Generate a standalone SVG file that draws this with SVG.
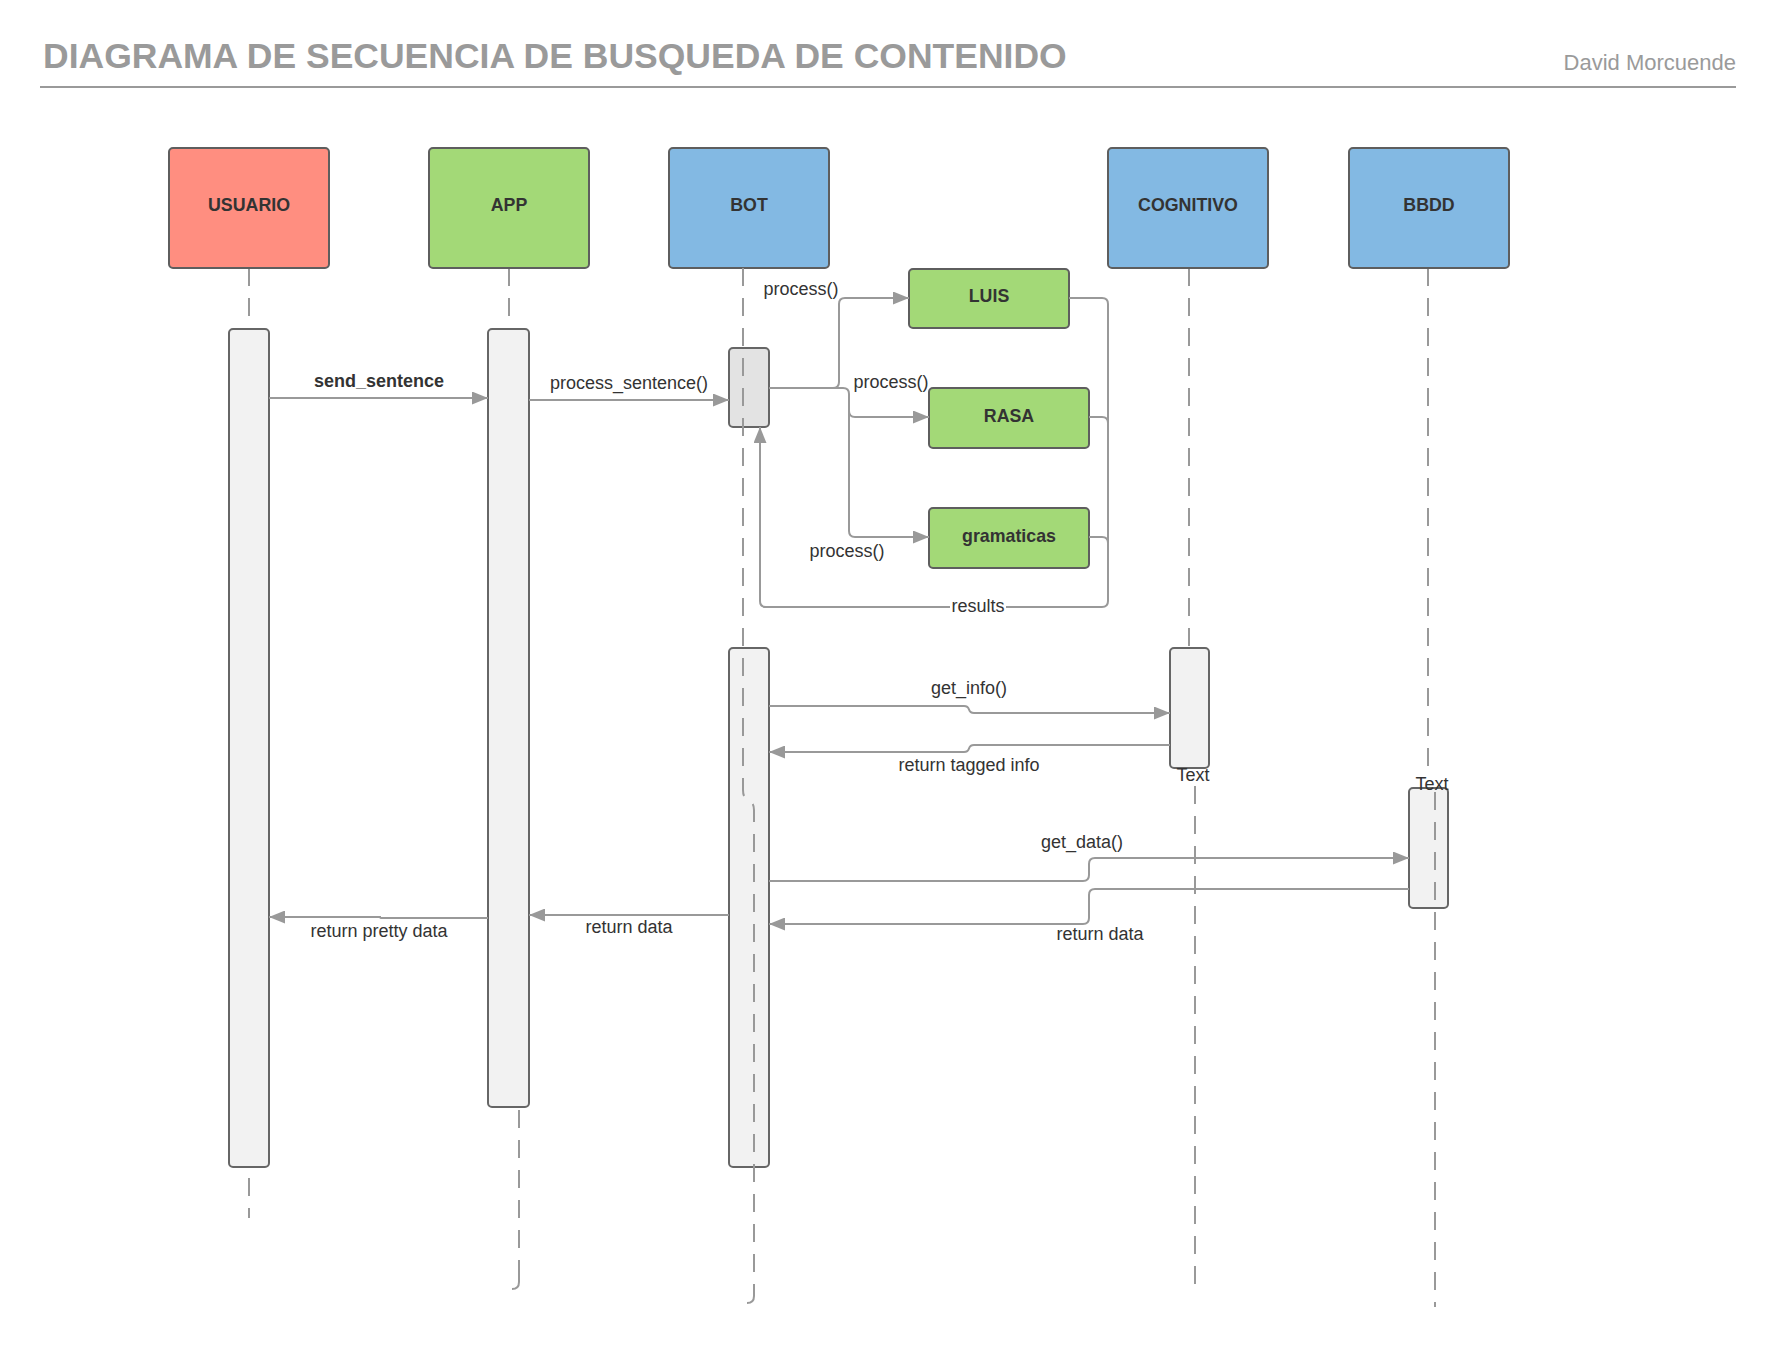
<svg xmlns="http://www.w3.org/2000/svg" width="1777" height="1347" viewBox="0 0 1777 1347">
<style>
text{font-family:"Liberation Sans",Arial,sans-serif;fill:#333}
.title{font-size:35.5px;font-weight:bold;fill:#9a9a9a}
.author{font-size:22px;fill:#9a9a9a}
.nl{font-size:17.8px;font-weight:bold;text-anchor:middle}
.lbl{font-size:18px;text-anchor:middle}
.box{stroke:#5e5e5e;stroke-width:2}
.act{fill:#f2f2f2;stroke:#666;stroke-width:2}
.life{fill:none;stroke:#999;stroke-width:2;stroke-dasharray:18 12}
.hook{fill:none;stroke:#999;stroke-width:2}
.con{fill:none;stroke:#999;stroke-width:2}
.arr{marker-end:url(#ah)}
</style>
<defs>
<marker id="ah" markerUnits="userSpaceOnUse" markerWidth="17" markerHeight="13" refX="16" refY="6.5" orient="auto">
<path d="M0,0 L16,6.5 L0,13 z" fill="#999"/>
</marker>
</defs>
<rect width="1777" height="1347" fill="#fff"/>
<g id="header">
<text class="title" x="43" y="68">DIAGRAMA DE SECUENCIA DE BUSQUEDA DE CONTENIDO</text>
<text class="author" x="1736" y="70" text-anchor="end">David Morcuende</text>
<line x1="40" y1="87" x2="1736" y2="87" stroke="#9a9a9a" stroke-width="2"/>
</g>
<g id="lifelines">
<path class="life" d="M249 268 V329"/>
<path class="life" d="M249 1178 V1218"/>
<path class="life" d="M509 268 V329"/>
<path class="life" d="M519 1110 V1280"/>
<path class="hook" d="M519 1278 V1282 Q519 1289 512 1289"/>
<path class="life" d="M1189 268 V648"/>
<path class="life" d="M1195 786 V1289"/>
<path class="life" d="M1428 268 V776"/>
</g>
<g id="node-usuario"><rect class="box" x="169" y="148" width="160" height="120" rx="4" fill="#ff8e80"/><text class="nl" x="249" y="211">USUARIO</text></g>
<g id="node-app"><rect class="box" x="429" y="148" width="160" height="120" rx="4" fill="#a3d977"/><text class="nl" x="509" y="211">APP</text></g>
<g id="node-bot"><rect class="box" x="669" y="148" width="160" height="120" rx="4" fill="#83b9e3"/><text class="nl" x="749" y="211">BOT</text></g>
<g id="node-cognitivo"><rect class="box" x="1108" y="148" width="160" height="120" rx="4" fill="#83b9e3"/><text class="nl" x="1188" y="211">COGNITIVO</text></g>
<g id="node-bbdd"><rect class="box" x="1349" y="148" width="160" height="120" rx="4" fill="#83b9e3"/><text class="nl" x="1429" y="211">BBDD</text></g>
<g id="node-luis"><rect class="box" x="909" y="269" width="160" height="59" rx="4" fill="#a3d977"/><text class="nl" x="989" y="302">LUIS</text></g>
<g id="node-rasa"><rect class="box" x="929" y="388" width="160" height="60" rx="4" fill="#a3d977"/><text class="nl" x="1009" y="422">RASA</text></g>
<g id="node-gramaticas"><rect class="box" x="929" y="508" width="160" height="60" rx="4" fill="#a3d977"/><text class="nl" x="1009" y="542">gramaticas</text></g>
<g id="act-usuario"><rect class="act" x="229" y="329" width="40" height="838" rx="4"/></g>
<g id="act-app"><rect class="act" x="488" y="329" width="41" height="778" rx="4"/></g>
<g id="act-bot-1"><rect class="act" x="729" y="348" width="40" height="79" rx="4" style="fill:#e3e3e3"/></g>
<g id="act-bot-2"><rect class="act" x="729" y="648" width="40" height="519" rx="4"/></g>
<g id="act-cognitivo"><rect class="act" x="1170" y="648" width="39" height="120" rx="4"/></g>
<g id="act-bbdd"><rect class="act" x="1409" y="788" width="39" height="120" rx="4"/></g>
<g id="lifelines-over">
<path class="life" d="M743 268 V790 Q743 798 748 800 Q754 802 754 810 V1294"/>
<path class="hook" d="M754 1292 V1296 Q754 1303 747 1303"/>
<path class="life" d="M1435 792 V1307"/>
</g>
<g id="connectors">
<path class="con arr" d="M269 398 H488"/>
<path class="con arr" d="M529 400 H729"/>
<path class="con arr" d="M769 388 H833 Q839 388 839 382 V304 Q839 298 845 298 H909"/>
<path class="con arr" d="M769 388 H843 Q849 388 849 394 V411 Q849 417 855 417 H929"/>
<path class="con arr" d="M849 410 V531 Q849 537 855 537 H929"/>
<path class="con arr" d="M1069 298 H1102 Q1108 298 1108 304 V601 Q1108 607 1102 607 H766 Q760 607 760 601 V427"/>
<path class="con" d="M1089 417 H1102 Q1108 417 1108 423"/>
<path class="con" d="M1089 537 H1102 Q1108 537 1108 543"/>
<path class="con arr" d="M769 706 H964 Q968 706 969 709.5 Q970 713 974 713 H1170"/>
<path class="con arr" d="M1170 745 H974 Q970 745 969 748.5 Q968 752 964 752 H769"/>
<path class="con arr" d="M769 881 H1083 Q1089 881 1089 875 V864 Q1089 858 1095 858 H1409"/>
<path class="con arr" d="M1409 889 H1095 Q1089 889 1089 895 V918 Q1089 924 1083 924 H769"/>
<path class="con arr" d="M729 915 H529"/>
<path class="con arr" d="M488 918 H382 Q380 918 380 917 H269"/>
</g>
<g id="labels">
<text class="lbl" x="379" y="387" style="font-weight:bold">send_sentence</text>
<text class="lbl" x="629" y="389">process_sentence()</text>
<text class="lbl" x="801" y="295">process()</text>
<text class="lbl" x="891" y="388">process()</text>
<text class="lbl" x="847" y="557">process()</text>
<rect x="950" y="596" width="56" height="20" fill="#fff"/>
<text class="lbl" x="978" y="612">results</text>
<text class="lbl" x="969" y="694">get_info()</text>
<text class="lbl" x="969" y="771">return tagged info</text>
<text class="lbl" x="1193" y="781">Text</text>
<text class="lbl" x="1432" y="790">Text</text>
<text class="lbl" x="1082" y="848">get_data()</text>
<text class="lbl" x="1100" y="940">return data</text>
<text class="lbl" x="629" y="933">return data</text>
<text class="lbl" x="379" y="937">return pretty data</text>
</g>
</svg>
